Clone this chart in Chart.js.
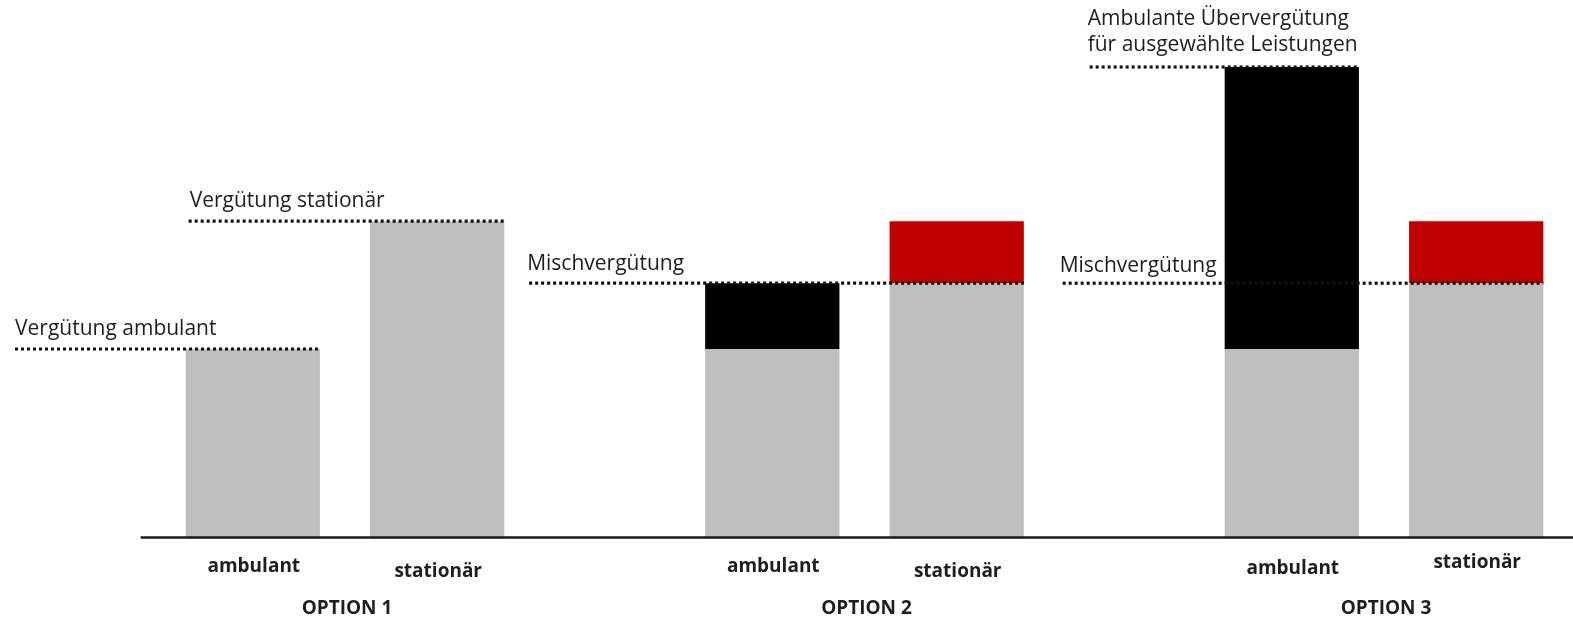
<!DOCTYPE html>
<html><head><meta charset="utf-8">
<script src="https://cdn.jsdelivr.net/npm/chart.js@4"></script>
<style>html,body{margin:0;padding:0;background:#fff}#wrap{width:1573px;height:619px;position:relative}</style>
</head><body><div id="wrap"><canvas id="c"></canvas></div>
<script>
// ---- data ----
const optionLabels = ['OPTION 1', 'OPTION 2', 'OPTION 3'];
const barLabels = ['ambulant', 'stationär'];
const ambulantBasis = [40, 40, 40];
const ambulantZuschlag = [0, 14, 60];
const stationaerBasis = [67.2, 54, 54];
const stationaerDifferenz = [0, 13.2, 13.2];
const referenceTexts = [
  ['Vergütung ambulant'],
  ['Vergütung stationär'],
  ['Mischvergütung'],
  ['Mischvergütung'],
  ['Ambulante Übervergütung', 'für ausgewählte Leistungen']
];
const referenceValues = [40, 67.2, 54, 54, 100];

// ---- styles / layout ----
const GRAY = '#bfbfbf', RED = '#c00000', BLACK = '#000000', TEXT = '#1e1e1e';
const refLayout = [
  { opt: 0, start: 'abs', dx: 15, end: 'ambRight', textDx: 0, textDy: -14.5 },
  { opt: 0, start: 'ambLeft', dx: 3, end: 'statRight', textDx: 1, textDy: -14 },
  { opt: 1, start: 'ambLeft', dx: -176, end: 'statRight', textDx: -2, textDy: -13 },
  { opt: 2, start: 'ambLeft', dx: -162, end: 'statRight', textDx: -3, textDy: -11 },
  { opt: 2, start: 'ambLeft', dx: -135, end: 'ambRight', textDx: -2, textDy: -16 }
];
const ambLabelDy = [35, 35, 37];
const statLabelDy = [40, 40, 31];
const optionLabelDy = 77;

function barBox(chart, dsIndex, i) {
  const el = chart.getDatasetMeta(dsIndex).data[i];
  const p = el.getProps(['x', 'width'], true);
  return { left: p.x - p.width / 2, right: p.x + p.width / 2, x: p.x };
}

const overlay = {
  id: 'overlay',
  afterDatasetsDraw(chart) {
    const ctx = chart.ctx;
    const y = chart.scales.y, x = chart.scales.x;
    ctx.save();
    // baseline
    const b0 = barBox(chart, 0, 0);
    const yb = y.getPixelForValue(0);
    ctx.strokeStyle = '#1a1a1a';
    ctx.lineWidth = 2.5;
    ctx.beginPath();
    ctx.moveTo(b0.left - 45, yb + 0.5);
    ctx.lineTo(chart.width, yb + 0.5);
    ctx.stroke();

    // reference dotted lines + texts
    refLayout.forEach((r, k) => {
      const amb = barBox(chart, 0, r.opt), stat = barBox(chart, 2, r.opt);
      const x1 = r.start === 'abs' ? r.dx : amb.left + r.dx;
      const x2 = r.end === 'ambRight' ? amb.right : stat.right;
      const yy = y.getPixelForValue(referenceValues[k]);
      ctx.strokeStyle = '#111';
      ctx.lineWidth = 3.2;
      ctx.setLineDash([3, 3]);
      ctx.beginPath();
      ctx.moveTo(x1, yy);
      ctx.lineTo(x2, yy);
      ctx.stroke();
      ctx.setLineDash([]);
      ctx.fillStyle = TEXT;
      ctx.font = '21px "Open Sans"';
      ctx.textAlign = 'left';
      ctx.textBaseline = 'alphabetic';
      const lines = referenceTexts[k];
      lines.forEach((t, j) => {
        const ty = yy + r.textDy - (lines.length - 1 - j) * 26;
        ctx.fillText(t, x1 + r.textDx, ty);
      });
    });

    // category labels
    ctx.fillStyle = TEXT;
    ctx.textAlign = 'center';
    ctx.font = 'bold 19px "Open Sans"';
    optionLabels.forEach((lab, i) => {
      const amb = barBox(chart, 0, i), stat = barBox(chart, 2, i);
      ctx.fillText(barLabels[0], amb.x + 1, yb + ambLabelDy[i]);
      ctx.fillText(barLabels[1], stat.x + 1, yb + statLabelDy[i]);
      ctx.fillText(lab, x.getPixelForValue(i) + 2, yb + optionLabelDy);
    });
    ctx.restore();
  }
};

new Chart(document.getElementById('c'), {
  type: 'bar',
  data: {
    labels: optionLabels,
    datasets: [
      { label: 'ambulant Basis', data: ambulantBasis, backgroundColor: GRAY, stack: 'amb' },
      { label: 'ambulant Zuschlag', data: ambulantZuschlag, backgroundColor: BLACK, stack: 'amb' },
      { label: 'stationär Basis', data: stationaerBasis, backgroundColor: GRAY, stack: 'stat' },
      { label: 'stationär Differenz', data: stationaerDifferenz, backgroundColor: RED, stack: 'stat' }
    ].map(d => Object.assign(d, { borderWidth: 0, clip: false, categoryPercentage: 0.71, barPercentage: 0.728 }))
  },
  options: {
    responsive: true,
    maintainAspectRatio: false,
    animation: false,
    devicePixelRatio: 1,
    layout: { padding: { left: 345, right: 189, top: 67, bottom: 82 } },
    plugins: { legend: { display: false }, tooltip: { enabled: false }, title: { display: false } },
    scales: {
      x: { type: 'category', stacked: true, offset: false, display: false, grid: { display: false } },
      y: { stacked: true, min: 0, max: 100, display: false, grid: { display: false } }
    }
  },
  plugins: [overlay]
});
</script>
</body></html>
